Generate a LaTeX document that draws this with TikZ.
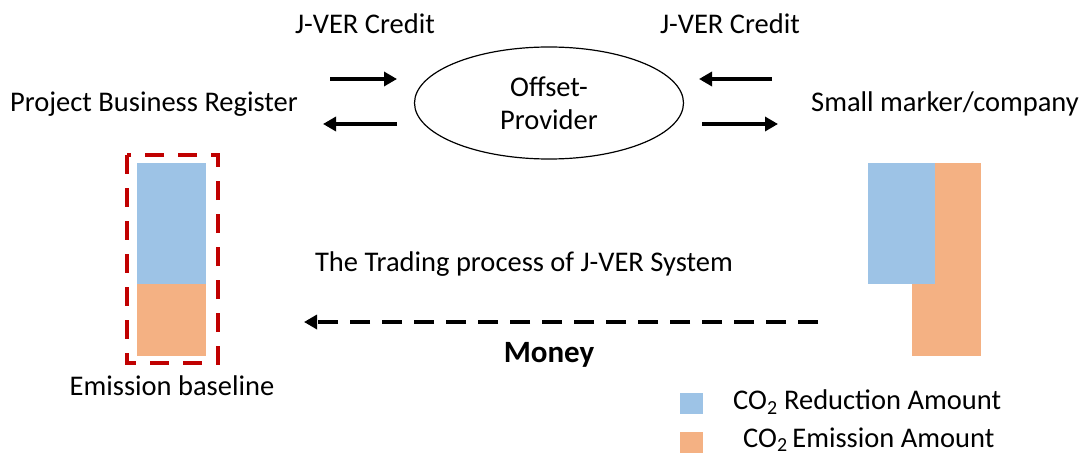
\documentclass[tikz,border=0pt]{standalone}
\usepackage{fontspec}
\setmainfont{Carlito}
\usetikzlibrary{shapes.geometric,arrows.meta,positioning}
\definecolor{reductionBlue}{RGB}{157,195,230}
\definecolor{emissionOrange}{RGB}{244,177,131}
\definecolor{baselineRed}{RGB}{192,0,0}

\begin{document}
\begin{tikzpicture}[x=1pt,y=-1pt,
  lbl/.style={font=\fontsize{28.5}{33}\selectfont,inner sep=0pt},
  arr/.style={-{Triangle[length=13pt,width=14pt]},line width=4pt},
  darr/.style={-{Triangle[length=13pt,width=14pt]},line width=4.5pt,dash pattern=on 20pt off 12pt},
  bar/.style={inner sep=0pt,outer sep=0pt,anchor=north west},
  key/.style={inner sep=0pt,outer sep=0pt,minimum width=23pt,minimum height=21pt}
]
  \useasboundingbox (0,0) rectangle (1083,457);

  \node[draw,ellipse,line width=1.2pt,minimum width=269pt,minimum height=112pt,
        lbl,align=center](op) at (549,103) {Offset-\\Provider};

  \node[lbl](credL) at (365,24)  {J-VER Credit};
  \node[lbl](credR) at (730,24)  {J-VER Credit};
  \node[lbl](reg)   at (154,104) {Project Business Register};
  \node[lbl](small) at (945,104) {Small marker/company};

  \coordinate (la1) at (330,79);  \coordinate (la2) at (397,79);
  \coordinate (lb1) at (397,124); \coordinate (lb2) at (323,124);
  \coordinate (ra1) at (772,79);  \coordinate (ra2) at (699,79);
  \coordinate (rb1) at (702,124); \coordinate (rb2) at (778,124);
  \draw[arr](la1)--(la2);
  \draw[arr](lb1)--(lb2);
  \draw[arr](ra1)--(ra2);
  \draw[arr](rb1)--(rb2);

  \node[bar,fill=reductionBlue,minimum width=69pt,minimum height=121pt](lred) at (137,163) {};
  \node[bar,fill=emissionOrange,minimum width=69pt,minimum height=72pt](lemi) at (137,284) {};
  \draw[baselineRed,line width=4pt,dash pattern=on 19pt off 14pt](127,155) rectangle (218,363);
  \node[lbl](base) at (172,386) {Emission baseline};

  \node[bar,fill=emissionOrange,minimum width=69pt,minimum height=193pt](remi) at (912,163) {};
  \node[bar,fill=reductionBlue,minimum width=67pt,minimum height=121pt](rred) at (868,163) {};

  \node[lbl](title) at (524,264) {The Trading process of J-VER System};

  \coordinate (m1) at (818,322); \coordinate (m2) at (304,322);
  \draw[darr](m1)--(m2);
  \node[lbl,font=\fontsize{31}{36}\selectfont\bfseries](money) at (549,355) {Money};

  \node[key,fill=reductionBlue](kred)  at (691.5,403.5) {};
  \node[key,fill=emissionOrange](kemi) at (691.5,442.5) {};
  \node[lbl,anchor=west](tred) at (733,402) {CO\textsubscript{2} Reduction Amount};
  \node[lbl,anchor=west](temi) at (743,440) {CO\textsubscript{2}\,Emission Amount};
\end{tikzpicture}
\end{document}
